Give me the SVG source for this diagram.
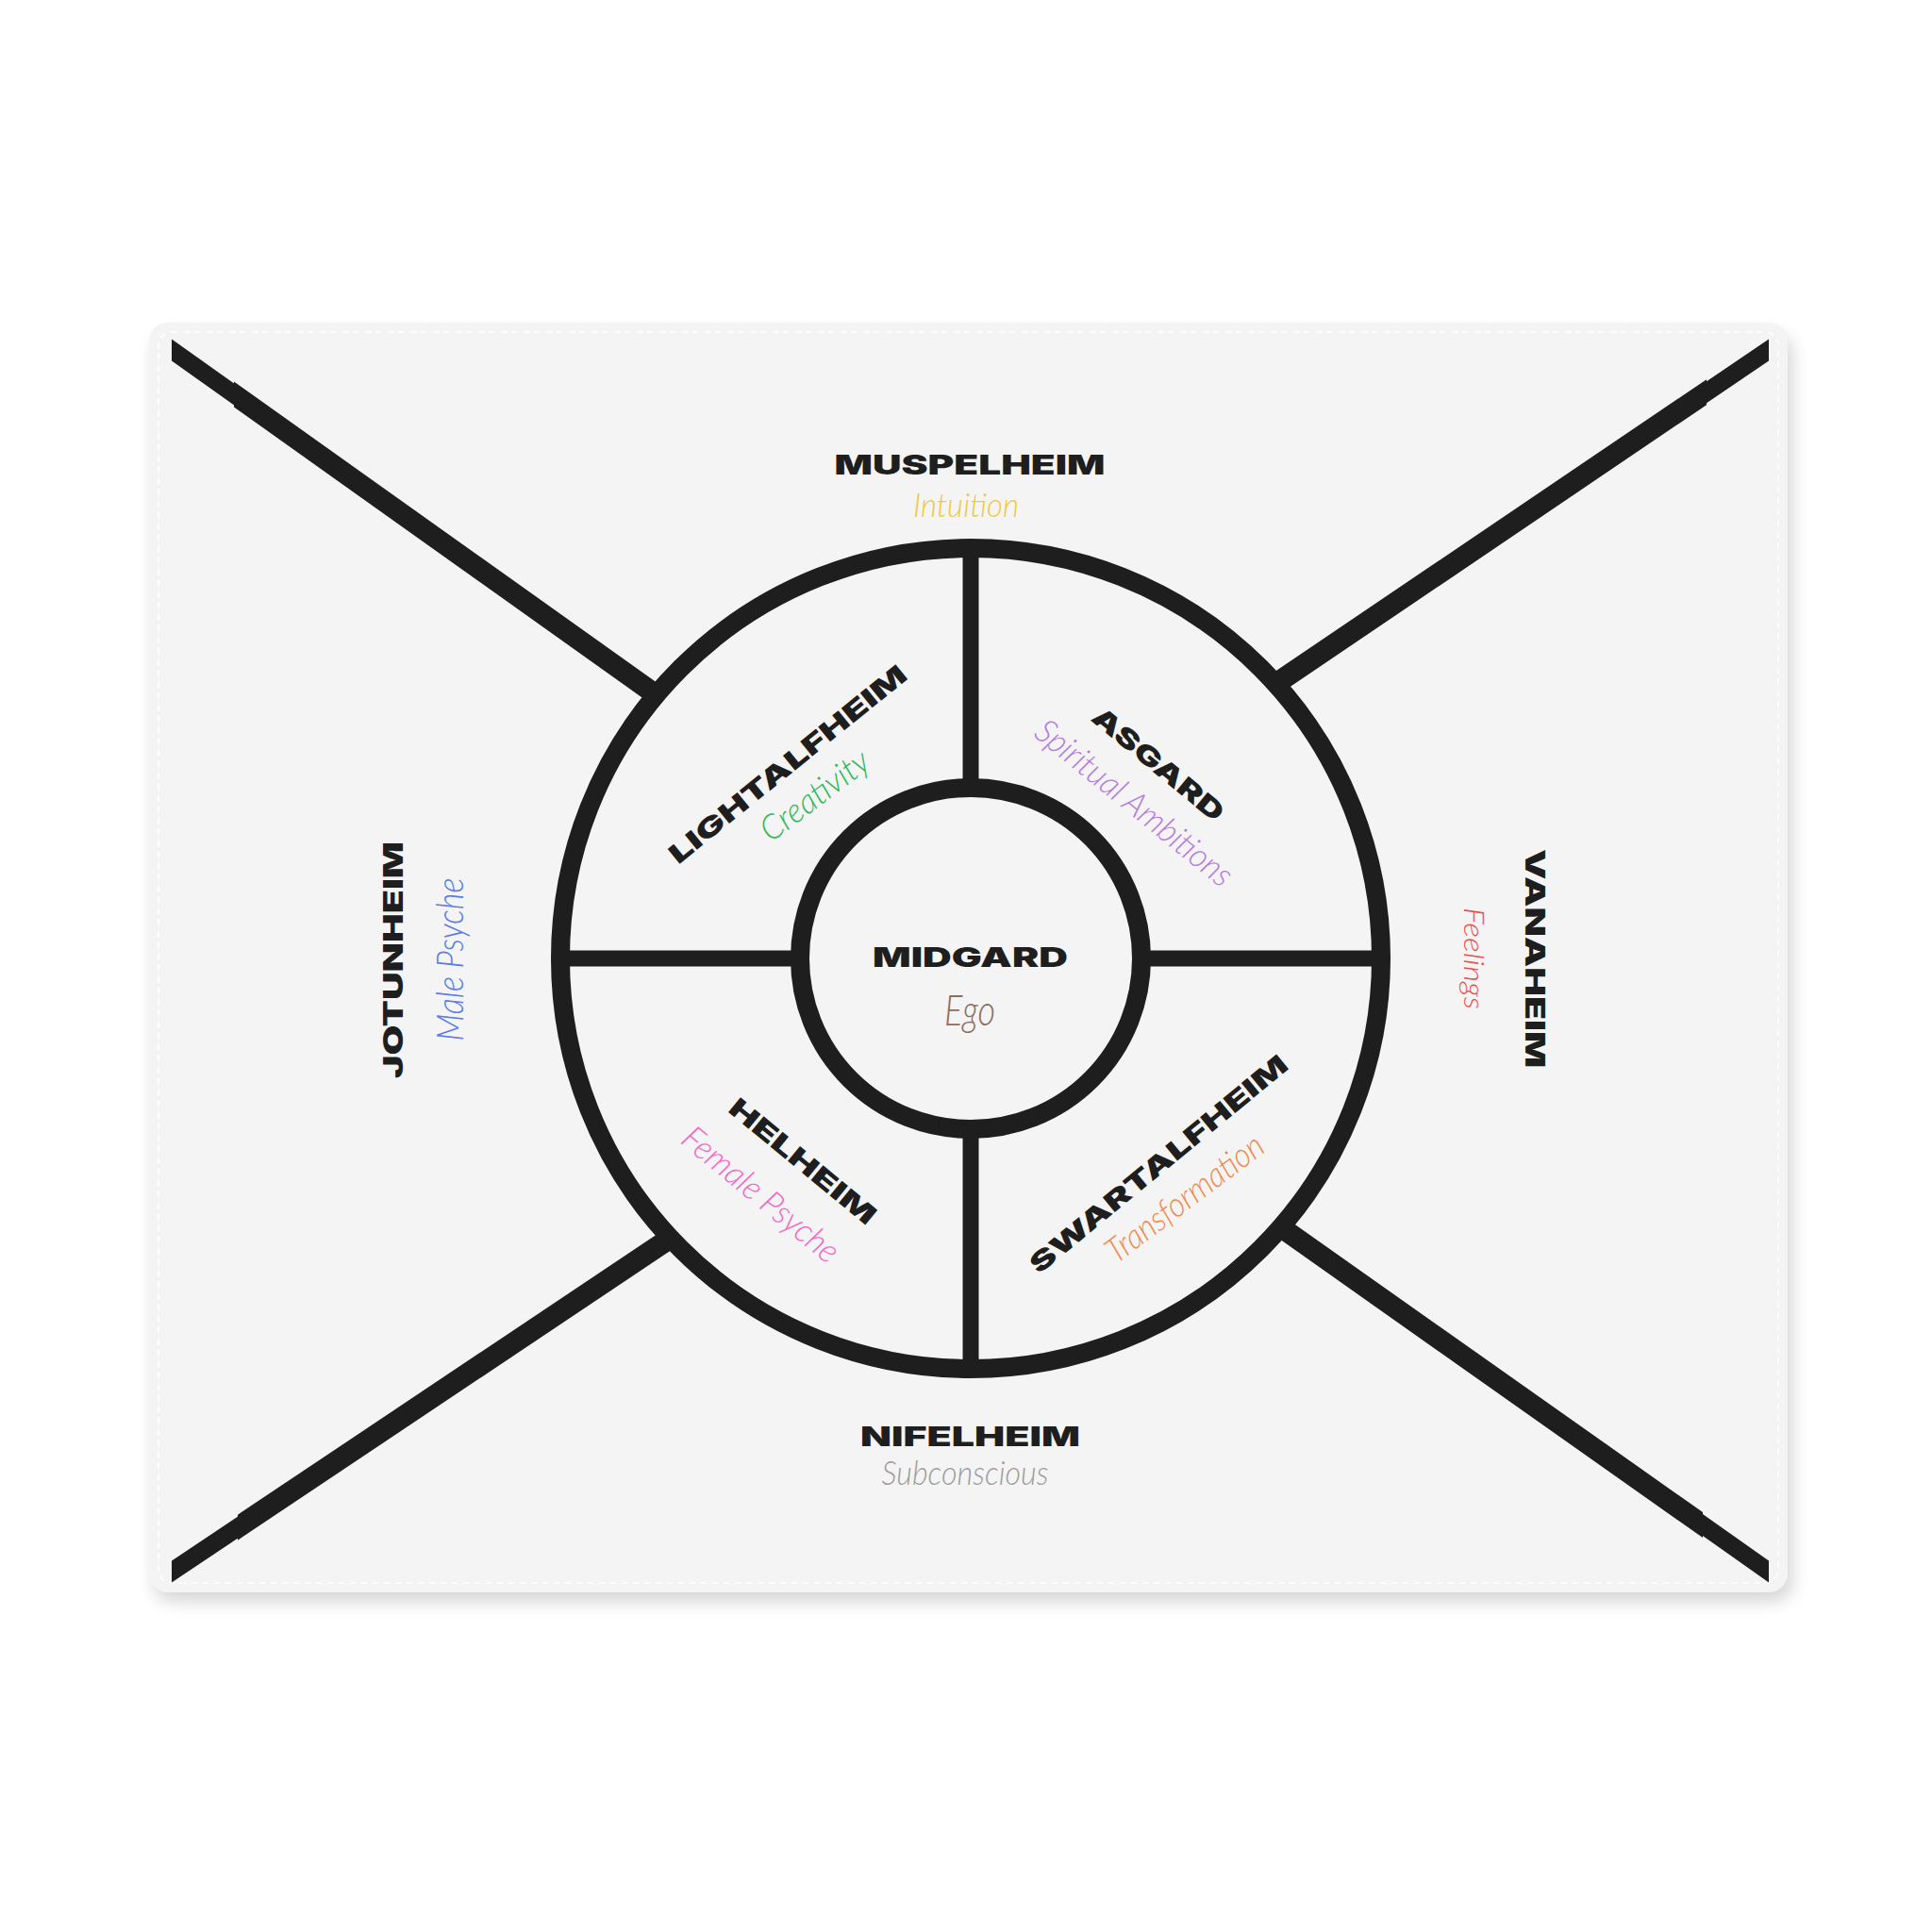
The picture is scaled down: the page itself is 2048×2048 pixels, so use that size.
<svg xmlns="http://www.w3.org/2000/svg" width="2048" height="2048" viewBox="0 0 2048 2048">
  <defs>
    <filter id="shadow" x="-5%" y="-5%" width="110%" height="115%">
      <feGaussianBlur stdDeviation="9"/>
    </filter>
    <style>
      .ink { fill: #1e1e1e; }
      .ring { fill: none; stroke: #1e1e1e; stroke-width: 20; }
      .spoke { stroke: #1e1e1e; stroke-width: 17; }
      .head { font-family: Inter, "Liberation Sans", Arial, sans-serif; font-weight: 900; font-size: 28px; fill: #1e1e1e; text-anchor: middle; }
      .cap { font-family: Lato, "Open Sans", "Liberation Sans", sans-serif; font-weight: 300; font-style: italic; text-anchor: middle; }
    </style>
  </defs>
  <rect width="2048" height="2048" fill="#ffffff"/>

  <g id="mat">
    <rect x="163" y="354" width="1737" height="1344" rx="20" fill="#000" opacity="0.16" filter="url(#shadow)"/>
    <rect x="158" y="342" width="1737" height="1346" rx="20" fill="#f4f4f4"/>
    <rect x="168" y="352" width="1717" height="1326" rx="14" fill="none" stroke="#fcfcfc" stroke-width="2" stroke-dasharray="7 5"/>
  </g>

  <g id="connectors">
    <!-- top-left -->
    <polygon class="ink" points="182,359.5 252,409.3 252,432.3 182,382.5"/>
    <polygon class="ink" points="248,404.5 760,769 760,796 248,431.5"/>
    <!-- top-right -->
    <polygon class="ink" points="1875,359.5 1805,406.9 1805,429.9 1875,382.5"/>
    <polygon class="ink" points="1809,402.2 1300,746.8 1300,773.8 1809,429.2"/>
    <!-- bottom-left -->
    <polygon class="ink" points="182,1654.5 257,1604.3 257,1627.3 182,1677.5"/>
    <polygon class="ink" points="252,1605.7 760,1265.8 760,1292.8 252,1632.7"/>
    <!-- bottom-right -->
    <polygon class="ink" points="1875,1654.5 1800,1601.6 1800,1624.6 1875,1677.5"/>
    <polygon class="ink" points="1805,1603.1 1300,1246.6 1300,1273.6 1805,1630.1"/>
  </g>

  <g id="wheel">
    <circle cx="1029" cy="1016" r="435" fill="#f4f4f4"/>
    <line class="spoke" x1="1029" y1="581" x2="1029" y2="835"/>
    <line class="spoke" x1="1029" y1="1197" x2="1029" y2="1451"/>
    <line class="spoke" x1="594" y1="1016" x2="848" y2="1016"/>
    <line class="spoke" x1="1210" y1="1016" x2="1464" y2="1016"/>
    <circle class="ring" cx="1029" cy="1016" r="435"/>
    <circle class="ring" cx="1029" cy="1016" r="181"/>
  </g>

  <g id="muspelheim">
    <text class="head" x="1028" y="503" textLength="287" lengthAdjust="spacingAndGlyphs">MUSPELHEIM</text>
    <text class="cap" x="1024" y="548" font-size="35" fill="#efc940" textLength="112" lengthAdjust="spacingAndGlyphs">Intuition</text>
  </g>

  <g id="nifelheim">
    <text class="head" x="1028.5" y="1533" textLength="233" lengthAdjust="spacingAndGlyphs">NIFELHEIM</text>
    <text class="cap" x="1023" y="1574" font-size="35" fill="#9c9c9c" textLength="177" lengthAdjust="spacingAndGlyphs">Subconscious</text>
  </g>

  <g id="midgard">
    <text class="head" x="1028.5" y="1025" font-size="26" textLength="207" lengthAdjust="spacingAndGlyphs">MIDGARD</text>
    <text class="cap" x="1028" y="1087" font-size="46" fill="#8c6e5e" textLength="54" lengthAdjust="spacingAndGlyphs">Ego</text>
  </g>

  <g id="jotunheim">
    <text class="head" transform="translate(427,1017.5) rotate(-90)" x="0" y="0" textLength="251" lengthAdjust="spacingAndGlyphs">JOTUNHEIM</text>
    <text class="cap" transform="translate(491,1017) rotate(-90)" x="0" y="0" font-size="40" fill="#5b7be6" textLength="173" lengthAdjust="spacingAndGlyphs">Male Psyche</text>
  </g>

  <g id="vanaheim">
    <text class="head" transform="translate(1617,1016) rotate(90)" x="0" y="0" textLength="232" lengthAdjust="spacingAndGlyphs">VANAHEIM</text>
    <text class="cap" transform="translate(1552,1016) rotate(90)" x="0" y="0" font-size="30" fill="#e8504a" textLength="108" lengthAdjust="spacingAndGlyphs">Feelings</text>
  </g>

  <g id="lightalfheim">
    <text class="head" transform="translate(835,810) rotate(-39)" x="0" y="10" textLength="315" lengthAdjust="spacingAndGlyphs">LIGHTALFHEIM</text>
    <text class="cap" transform="translate(865,845) rotate(-37)" x="0" y="10" font-size="36" fill="#2eb85c" textLength="135" lengthAdjust="spacingAndGlyphs">Creativity</text>
  </g>

  <g id="asgard">
    <text class="head" transform="translate(1228,810) rotate(39.5)" x="0" y="10" textLength="172" lengthAdjust="spacingAndGlyphs">ASGARD</text>
    <text class="cap" transform="translate(1201,853) rotate(39)" x="0" y="10" font-size="36" fill="#b57be0" textLength="258" lengthAdjust="spacingAndGlyphs">Spiritual Ambitions</text>
  </g>

  <g id="helheim">
    <text class="head" transform="translate(851,1231) rotate(39.5)" x="0" y="10" textLength="192" lengthAdjust="spacingAndGlyphs">HELHEIM</text>
    <text class="cap" transform="translate(805,1268) rotate(39.5)" x="0" y="10" font-size="36" fill="#f06ac8" textLength="204" lengthAdjust="spacingAndGlyphs">Female Psyche</text>
  </g>

  <g id="swartalfheim">
    <text class="head" transform="translate(1228,1234) rotate(-39.5)" x="0" y="10" textLength="345" lengthAdjust="spacingAndGlyphs">SWARTALFHEIM</text>
    <text class="cap" transform="translate(1257,1272) rotate(-37)" x="0" y="10" font-size="36" fill="#f08a4b" textLength="200" lengthAdjust="spacingAndGlyphs">Transformation</text>
  </g>
</svg>
